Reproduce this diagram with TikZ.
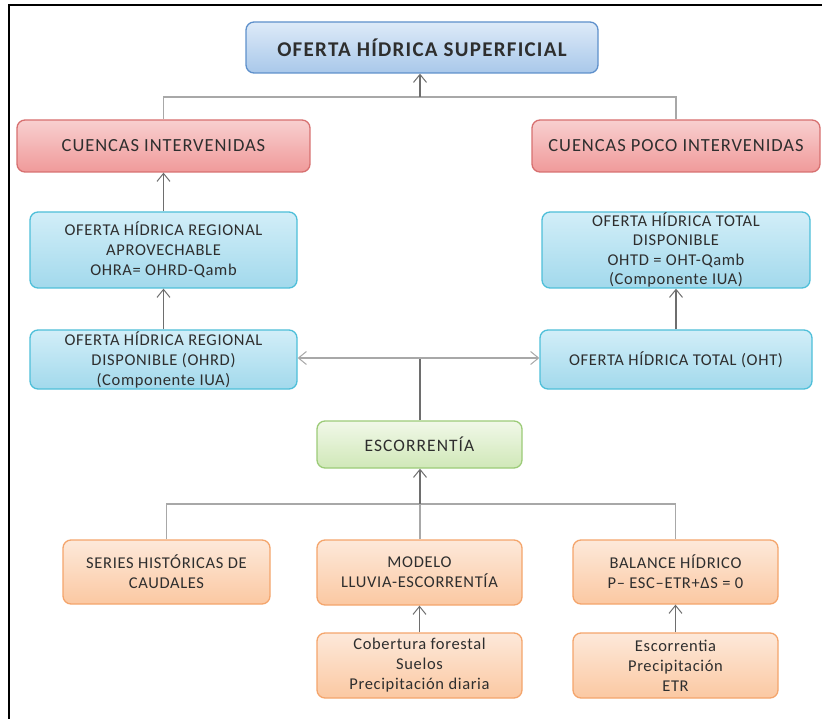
\documentclass[tikz,border=0pt]{standalone}
\usepackage{fontspec}
\setmainfont{Carlito}
\usetikzlibrary{arrows.meta,shadings}
\definecolor{txt}{HTML}{2E2E2E}
\definecolor{bluetop}{HTML}{DDEAF8}\definecolor{bluebot}{HTML}{A9C8EA}\definecolor{blueline}{HTML}{5E90CB}
\definecolor{redtop}{HTML}{F8CFCF}\definecolor{redbot}{HTML}{F09A9A}\definecolor{redline}{HTML}{D77070}
\definecolor{cyantop}{HTML}{D2EEF8}\definecolor{cyanbot}{HTML}{A2D9EC}\definecolor{cyanline}{HTML}{4EBFD9}
\definecolor{greentop}{HTML}{F1F8E8}\definecolor{greenbot}{HTML}{D0E8B8}\definecolor{greenline}{HTML}{9CCB78}
\definecolor{orgtop}{HTML}{FDE9DA}\definecolor{orgbot}{HTML}{FBC8A2}\definecolor{orgline}{HTML}{F4A56C}
\definecolor{lgray}{HTML}{A8A8A8}\definecolor{dgray}{HTML}{6E6E6E}
\tikzset{
  box/.style={rounded corners=8pt, line width=1.3pt, align=center, text=txt, inner sep=0pt},
  bluebox/.style={box, draw=blueline, top color=bluetop, bottom color=bluebot, font=\fontsize{21}{24}\selectfont\bfseries\addfontfeatures{LetterSpace=6}},
  redbox/.style={box, draw=redline, top color=redtop, bottom color=redbot, font=\fontsize{18.5}{22}\selectfont\addfontfeatures{LetterSpace=5}},
  cyanbox/.style={box, draw=cyanline, top color=cyantop, bottom color=cyanbot, font=\fontsize{16.5}{20}\selectfont\addfontfeatures{LetterSpace=4}},
  greenbox/.style={box, draw=greenline, top color=greentop, bottom color=greenbot, font=\fontsize{17.5}{21}\selectfont\addfontfeatures{LetterSpace=6}},
  orgbox/.style={box, draw=orgline, top color=orgtop, bottom color=orgbot, font=\fontsize{16.5}{20}\selectfont\addfontfeatures{LetterSpace=4}},
  arr/.style={-{Straight Barb[length=8pt,width=13pt,line width=1pt]}, draw=dgray, line width=1.6pt},
  harr/.style={-{Straight Barb[length=8pt,width=13pt,line width=1pt]}, draw=lgray, line width=1.6pt},
  lg/.style={draw=lgray, line width=1.6pt},
  dg/.style={draw=dgray, line width=2pt},
}
\begin{document}
\begin{tikzpicture}[x=1pt,y=-1pt]
\useasboundingbox (0,0) rectangle (822,719);
\draw[line width=2pt] (9,719) -- (9,5.5) -- (822,5.5);
\node[bluebox, minimum width=352pt, minimum height=51pt] (top) at (422,47.5) {OFERTA HÍDRICA SUPERFICIAL};
\node[redbox, minimum width=293pt, minimum height=52pt] (ci) at (163.5,146) {CUENCAS INTERVENIDAS};
\node[redbox, minimum width=288pt, minimum height=52pt] (cpi) at (676,146) {CUENCAS POCO INTERVENIDAS};
\node[cyanbox, minimum width=267pt, minimum height=76pt] (ohra) at (163.5,250) {OFERTA HÍDRICA REGIONAL\\APROVECHABLE\\OHRA= OHRD-Qamb};
\node[cyanbox, minimum width=267pt, minimum height=59pt] (ohrd) at (163.5,359.5) {OFERTA HÍDRICA REGIONAL\\DISPONIBLE (OHRD)\\(Componente IUA)};
\node[cyanbox, minimum width=268pt, minimum height=76pt, font=\fontsize{16.5}{19.5}\selectfont\addfontfeatures{LetterSpace=4}] (ohtd) at (676,250) {OFERTA HÍDRICA TOTAL\\DISPONIBLE\\OHTD = OHT-Qamb\\(Componente IUA)};
\node[cyanbox, minimum width=272pt, minimum height=59pt] (oht) at (676,359.5) {OFERTA HÍDRICA TOTAL (OHT)};
\node[greenbox, minimum width=205pt, minimum height=47pt] (esc) at (419.5,444.5) {ESCORRENTÍA};
\node[orgbox, minimum width=207pt, minimum height=64pt] (ser) at (166.5,572) {SERIES HISTÓRICAS DE\\CAUDALES};
\node[orgbox, minimum width=205pt, minimum height=65pt] (mod) at (419.5,572.5) {MODELO\\LLUVIA-ESCORRENTÍA};
\node[orgbox, minimum width=205pt, minimum height=64pt] (bal) at (675.5,572) {BALANCE HÍDRICO\\P– ESC–ETR+ΔS = 0};
\node[orgbox, minimum width=205pt, minimum height=65pt] (cob) at (419.5,665.5) {Cobertura forestal\\Suelos\\Precipitación diaria};
\node[orgbox, minimum width=205pt, minimum height=65pt] (escb) at (675.5,665.5) {Escorrentia\\Precipitación\\ETR};
% top connectors
\coordinate (j1) at (420,97);
\draw[lg] (ci.north) |- (cpi.north |- j1) -- (cpi.north);
\draw[arr] (j1) -- (j1 |- top.south);
\draw[arr] (ohra.north) -- (ci.south);
\draw[arr] (ohrd.north) -- (ohra.south);
\draw[arr] (oht.north) -- (ohtd.south);
% middle
\coordinate (j3) at (420,358);
\draw[dg] (j3 |- esc.north) -- (j3);
\draw[harr] (j3) -- (ohrd.east |- j3);
\draw[harr] (j3) -- (oht.west |- j3);
% bottom
\coordinate (j2) at (420,504);
\draw[lg] (ser.north) |- (bal.north |- j2) -- (bal.north);
\draw[lg] (j2 |- mod.north) -- (j2);
\draw[arr] (j2) -- (j2 |- esc.south);
\draw[arr] (cob.north) -- (mod.south);
\draw[arr] (escb.north) -- (bal.south);
\end{tikzpicture}
\end{document}
